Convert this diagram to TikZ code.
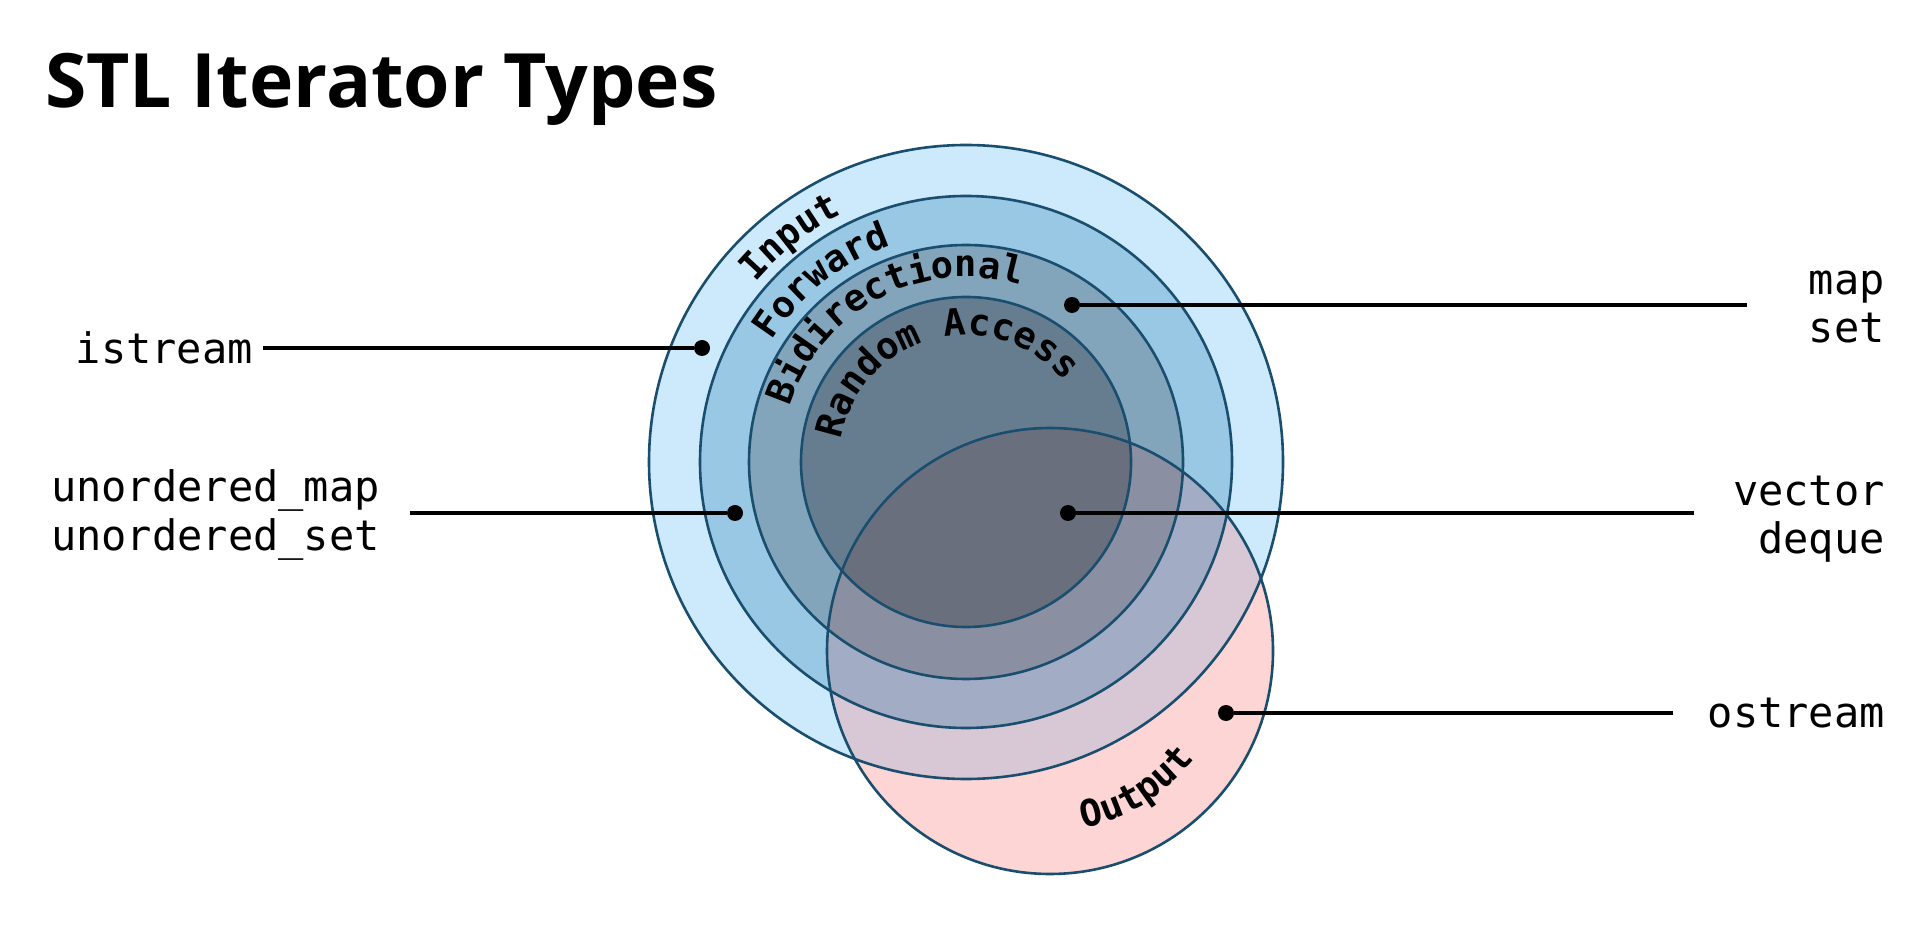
\documentclass[tikz,border=0pt]{standalone}
\usepackage{fontspec}
\setmainfont{Open Sans}
\newfontfamily\codefont{DejaVu Sans Mono}
\usetikzlibrary{calc,decorations.text}
\definecolor{edge}{HTML}{1A4E6E}
\definecolor{cin}{HTML}{CCEAFB}
\definecolor{cfw}{HTML}{99C8E4}
\definecolor{cbi}{HTML}{82A5BB}
\definecolor{cra}{HTML}{667D90}
\definecolor{cout}{HTML}{FDD5D5}
\definecolor{xin}{HTML}{D8C7D5}
\definecolor{xfw}{HTML}{A2ACC4}
\definecolor{xbi}{HTML}{8A8FA2}
\definecolor{xra}{HTML}{6A6F7E}
\newcommand\ringfont{\codefont\bfseries\fontsize{37}{40}\selectfont}
\newcommand\lblfont{\codefont\fontsize{42}{48}\selectfont}
\tikzset{
  ring/.style={draw=edge, line width=2.6pt},
  dot/.style={circle, fill=black, inner sep=0pt, minimum size=16pt},
  conn/.style={line width=4pt, draw=black},
  lbl/.style={font=\lblfont, inner sep=0pt, align=#1},
  lbl/.default=left,
  arclbl/.style={decorate, decoration={text along path, text={|\ringfont|#1}, text align=center}},
}

\begin{document}
\begin{tikzpicture}[x=1pt, y=1pt]
  \fill[white] (0,0) rectangle (1927,924);
  \useasboundingbox (0,0) rectangle (1927,924);
  \node[font=\bfseries\fontsize{75}{88}\selectfont, anchor=base west, inner sep=0pt] (title) at (45,816) {STL Iterator Types};

  % --- rings
  \coordinate (C) at (966,462);
  \coordinate (O) at (1050,273);
  \fill[cout] (O) circle (223);
  \fill[cin] (C) circle (317);
  \fill[cfw] (C) circle (266);
  \fill[cbi] (C) circle (217);
  \fill[cra] (C) circle (165);
  \begin{scope}
    \clip (O) circle (223);
    \fill[xin] (C) circle (317);
    \fill[xfw] (C) circle (266);
    \fill[xbi] (C) circle (217);
    \fill[xra] (C) circle (165);
  \end{scope}
  \foreach \r in {317,266,217,165}
    \draw[ring] (C) circle (\r);
  \draw[ring] (O) circle (223);

  % --- ring names
  \path[arclbl=Input] ($(C)+(188:277)$) arc[start angle=188, end angle=68, radius=277];
  \path[arclbl=Forward] ($(C)+(188.5:229)$) arc[start angle=188.5, end angle=68.5, radius=229];
  \path[arclbl=Bidirectional] ($(C)+(197.6:185)$) arc[start angle=197.6, end angle=37.6, radius=185];
  \path[arclbl=Random Access] ($(C)+(194.6:127)$) arc[start angle=194.6, end angle=14.6, radius=127];
  \path[arclbl=Output] ($(O)+(-128:180)$) arc[start angle=-128, end angle=12, radius=180];

  % --- containers
  \node[dot] (dIst) at (702,576) {};
  \node[dot] (dUn) at (735,411) {};
  \node[dot] (dMap) at (1072,619) {};
  \node[dot] (dVec) at (1068,411) {};
  \node[dot] (dOst) at (1226,211) {};

  \node[lbl, anchor=east] (lIst) at (253,576) {istream};
  \node[lbl, anchor=east] (lUn) at (380,409) {unordered\_map\\unordered\_set};
  \node[lbl=right, anchor=east] (lMap) at (1885,617) {map\\set};
  \node[lbl=right, anchor=east] (lVec) at (1885,405) {vector\\deque};
  \node[lbl=right, anchor=east] (lOst) at (1885,211) {ostream};

  \draw[conn, shorten <=10pt] (lIst.east |- dIst) -- (dIst);
  \draw[conn, shorten <=30pt] (lUn.east |- dUn) -- (dUn);
  \draw[conn, shorten >=62pt] (dMap) -- (lMap.west |- dMap);
  \draw[conn, shorten >=39pt] (dVec) -- (lVec.west |- dVec);
  \draw[conn, shorten >=35pt] (dOst) -- (lOst.west |- dOst);
\end{tikzpicture}
\end{document}
